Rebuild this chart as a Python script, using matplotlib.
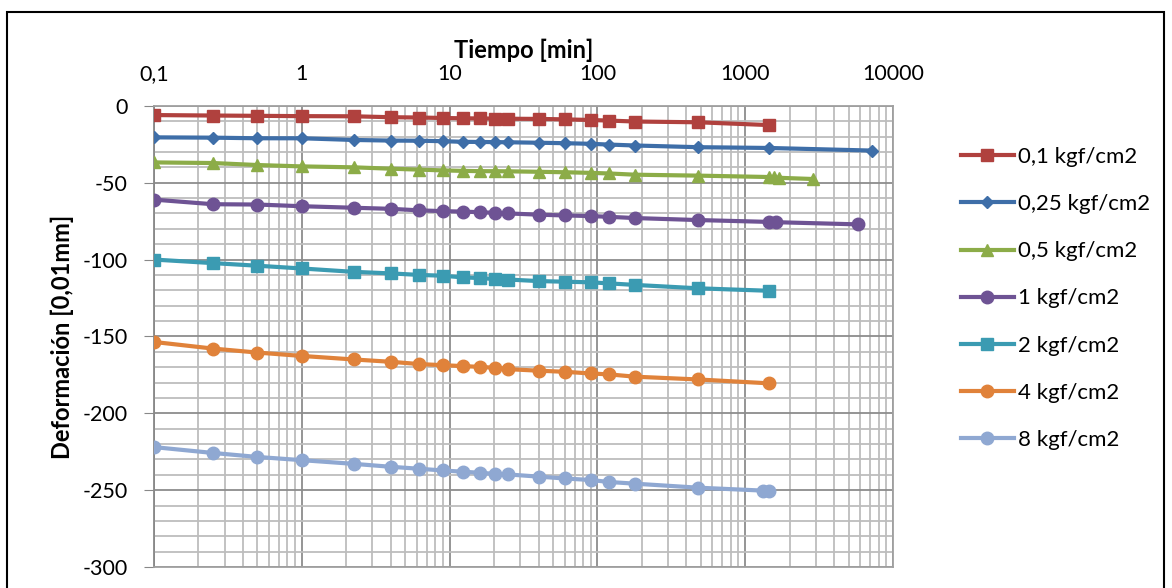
import matplotlib
matplotlib.use("Agg")
import matplotlib.pyplot as plt
from matplotlib.ticker import FixedLocator, FixedFormatter, LogLocator, MultipleLocator, NullFormatter
from matplotlib.patches import Rectangle

plt.rcParams['font.family'] = ['Lato', 'DejaVu Sans']

# tiempos comunes [min]
t_base = [0.1, 0.25, 0.5, 1, 2.25, 4, 6.25, 9, 12.25, 16, 20.25, 25, 40, 60, 90, 120, 180, 480, 1440]

t_01 = t_base
d_01 = [-6, -6.3, -6.5, -6.7, -6.8, -7.4, -7.6, -7.9, -8.1, -8.2, -8.3, -8.4, -8.5,
        -8.8, -9.2, -9.6, -10.2, -10.7, -12.5]
t_025 = t_base + [7200]
d_025 = [-20.5, -20.7, -21.1, -21.1, -22.2, -22.6, -22.7, -23.0, -23.4, -23.5, -23.6, -23.7,
         -24.0, -24.3, -24.7, -25.2, -25.8, -26.9, -27.4, -29.1]
t_05 = t_base + [1560, 1680, 2880]
d_05 = [-36.8, -37.2, -38.5, -39.4, -40, -40.9, -41.5, -42, -42.3, -42.5, -42.5, -42.6,
        -42.9, -43.2, -43.6, -44, -44.8, -45.4, -46.3, -46.6, -46.8, -47.6]
t_1 = t_base + [1620, 5760]
d_1 = [-61, -64, -64.2, -65.3, -66.3, -67, -68, -68.5, -68.8, -69.2, -69.6, -70,
       -70.8, -71.3, -71.7, -72.2, -73, -74.3, -75.5, -75.7, -77.1]
t_2 = t_base
d_2 = [-100, -102.3, -104, -105.8, -108, -109, -110, -110.5, -111.6, -112, -112.7, -113,
       -114, -114.4, -114.8, -115.5, -116.5, -118.7, -120.3]
t_4 = t_base
d_4 = [-153.6, -157.9, -160.5, -162.7, -165, -166.5, -168, -168.7, -169.3, -169.8, -170.4,
       -171.3, -172.3, -173, -174.1, -174.7, -176.2, -178, -180.5]
t_8 = t_base[:-1] + [1320, 1440]
d_8 = [-222, -225.8, -228.4, -230.5, -232.9, -234.8, -236.1, -237.2, -238, -238.7, -239.4,
       -239.8, -241.2, -242.4, -243.4, -244.7, -245.8, -248.4, -250.3, -250.5]

labels = ['0,1 kgf/cm2', '0,25 kgf/cm2', '0,5 kgf/cm2', '1 kgf/cm2', '2 kgf/cm2', '4 kgf/cm2', '8 kgf/cm2']
x_ticks = [0.1, 1, 10, 100, 1000, 10000]
x_ticklabels = ['0,1', '1', '10', '100', '1000', '10000']
y_ticks = [0, -50, -100, -150, -200, -250, -300]
y_ticklabels = ['0', '-50', '-100', '-150', '-200', '-250', '-300']

series = [(t_01, d_01), (t_025, d_025), (t_05, d_05), (t_1, d_1), (t_2, d_2), (t_4, d_4), (t_8, d_8)]
colores = ['#B0413E', '#3E6EA8', '#8CAC48', '#6E5394', '#3B9BB2', '#E0823A', '#8FA8D2']
marcadores = ['s', 'D', '^', 'o', 's', 'o', 'o']
tam = [9, 6, 8, 9, 9, 9, 9]

fig = plt.figure(figsize=(11.72, 5.88), dpi=100)
ax = fig.add_axes([0.1314, 0.0357, 0.6306, 0.7843])

for (t, d), c, m, s, lab in zip(series, colores, marcadores, tam, labels):
    ax.plot(t, d, color=c, marker=m, markersize=s, linewidth=3, label=lab,
            markeredgecolor=c, zorder=3)

ax.set_xscale('log')
ax.set_xlim(0.1, 10000)
ax.set_ylim(-300, 0)

ax.xaxis.set_major_locator(FixedLocator(x_ticks))
ax.xaxis.set_major_formatter(FixedFormatter(x_ticklabels))
ax.xaxis.set_minor_locator(LogLocator(base=10, subs=range(2, 10)))
ax.xaxis.set_minor_formatter(NullFormatter())
ax.yaxis.set_major_locator(FixedLocator(y_ticks))
ax.yaxis.set_major_formatter(FixedFormatter(y_ticklabels))
ax.yaxis.set_minor_locator(MultipleLocator(10))

ax.xaxis.tick_top()
ax.xaxis.set_label_position('top')
ax.tick_params(axis='x', which='both', length=0, labelsize=15.5, pad=16)
ax.tick_params(axis='y', which='major', length=7, color='#888888', labelsize=15.5, pad=12)
ax.tick_params(axis='y', which='minor', length=0)

ax.grid(True, which='major', color='#8C8C8C', linewidth=1.3, zorder=0)
ax.grid(True, which='minor', color='#BDBDBD', linewidth=1.3, zorder=0)
for sp in ax.spines.values():
    sp.set_color('#A0A0A0')
    sp.set_linewidth(1.3)
ax.spines['left'].set_color('#888888')

ax.set_xlabel('Tiempo [min]', fontsize=17, fontweight='bold', labelpad=4)
ax.set_ylabel('Deformación [0,01mm]', fontsize=17, fontweight='bold', labelpad=6)

fig.legend(loc='upper left', bbox_to_anchor=(0.812, 0.765), frameon=False, fontsize=16,
           handlelength=2.4, handletextpad=0.2, labelspacing=1.22, borderaxespad=0)

fig.patches.append(Rectangle((0.006, -0.02), 0.987, 0.999, transform=fig.transFigure,
                             fill=False, edgecolor='black', linewidth=1.5))

fig.savefig('out.png', dpi=100)
